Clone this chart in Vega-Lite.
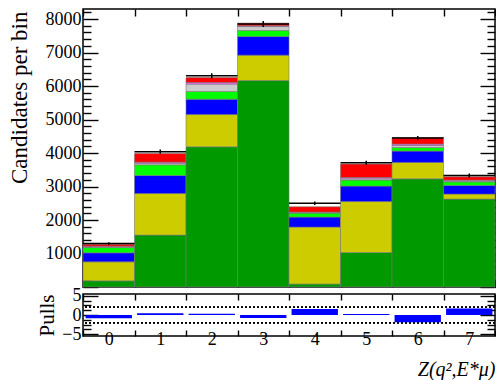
{
  "$schema": "https://vega.github.io/schema/vega-lite/v6.json",
  "padding": {"left": 7, "top": 7, "right": 0, "bottom": 0},
  "spacing": -3,
  "config": {
    "font": "Liberation Serif",
    "view": {"stroke": "black", "strokeWidth": 1.5},
    "axis": {"domain": false, "grid": false, "labelFont": "Liberation Serif", "labelFontSize": 18, "labelColor": "black", "tickColor": "black", "tickWidth": 1.4, "titleFont": "Liberation Serif", "titleFontWeight": "normal", "titleColor": "black"}
  },
  "datasets": {
    "stack": [
      {"bin": 0, "comp": "c1", "n": 185}, {"bin": 0, "comp": "c2", "n": 567}, {"bin": 0, "comp": "c3", "n": 269}, {"bin": 0, "comp": "c4", "n": 158}, {"bin": 0, "comp": "c5", "n": 20}, {"bin": 0, "comp": "c6", "n": 20}, {"bin": 0, "comp": "c7", "n": 60},
      {"bin": 1, "comp": "c1", "n": 1549}, {"bin": 1, "comp": "c2", "n": 1242}, {"bin": 1, "comp": "c3", "n": 537}, {"bin": 1, "comp": "c4", "n": 320}, {"bin": 1, "comp": "c5", "n": 40}, {"bin": 1, "comp": "c6", "n": 40}, {"bin": 1, "comp": "c7", "n": 257},
      {"bin": 2, "comp": "c1", "n": 4185}, {"bin": 2, "comp": "c2", "n": 964}, {"bin": 2, "comp": "c3", "n": 460}, {"bin": 2, "comp": "c4", "n": 227}, {"bin": 2, "comp": "c5", "n": 221}, {"bin": 2, "comp": "c6", "n": 47}, {"bin": 2, "comp": "c7", "n": 150},
      {"bin": 3, "comp": "c1", "n": 6165}, {"bin": 3, "comp": "c2", "n": 757}, {"bin": 3, "comp": "c3", "n": 556}, {"bin": 3, "comp": "c4", "n": 179}, {"bin": 3, "comp": "c5", "n": 119}, {"bin": 3, "comp": "c6", "n": 21}, {"bin": 3, "comp": "c7", "n": 81},
      {"bin": 4, "comp": "c1", "n": 87}, {"bin": 4, "comp": "c2", "n": 1701}, {"bin": 4, "comp": "c3", "n": 299}, {"bin": 4, "comp": "c4", "n": 119}, {"bin": 4, "comp": "c5", "n": 15}, {"bin": 4, "comp": "c6", "n": 15}, {"bin": 4, "comp": "c7", "n": 158},
      {"bin": 5, "comp": "c1", "n": 1030}, {"bin": 5, "comp": "c2", "n": 1522}, {"bin": 5, "comp": "c3", "n": 460}, {"bin": 5, "comp": "c4", "n": 179}, {"bin": 5, "comp": "c5", "n": 40}, {"bin": 5, "comp": "c6", "n": 38}, {"bin": 5, "comp": "c7", "n": 400},
      {"bin": 6, "comp": "c1", "n": 3230}, {"bin": 6, "comp": "c2", "n": 490}, {"bin": 6, "comp": "c3", "n": 337}, {"bin": 6, "comp": "c4", "n": 107}, {"bin": 6, "comp": "c5", "n": 60}, {"bin": 6, "comp": "c6", "n": 42}, {"bin": 6, "comp": "c7", "n": 197},
      {"bin": 7, "comp": "c1", "n": 2624}, {"bin": 7, "comp": "c2", "n": 149}, {"bin": 7, "comp": "c3", "n": 257}, {"bin": 7, "comp": "c4", "n": 110}, {"bin": 7, "comp": "c5", "n": 25}, {"bin": 7, "comp": "c6", "n": 26}, {"bin": 7, "comp": "c7", "n": 99}
    ],
    "obs": [
      {"bin": 0, "n": 1300, "lo": 1264, "hi": 1336},
      {"bin": 1, "n": 4040, "lo": 3976, "hi": 4104},
      {"bin": 2, "n": 6305, "lo": 6226, "hi": 6384},
      {"bin": 3, "n": 7855, "lo": 7766, "hi": 7944},
      {"bin": 4, "n": 2500, "lo": 2450, "hi": 2550},
      {"bin": 5, "n": 3710, "lo": 3649, "hi": 3771},
      {"bin": 6, "n": 4445, "lo": 4378, "hi": 4512},
      {"bin": 7, "n": 3330, "lo": 3272, "hi": 3388}
    ],
    "pulls": [
      {"bin": 0, "pull": -0.87},
      {"bin": 1, "pull": 0.45},
      {"bin": 2, "pull": 0.3},
      {"bin": 3, "pull": -0.8},
      {"bin": 4, "pull": 1.6},
      {"bin": 5, "pull": 0.25},
      {"bin": 6, "pull": -1.9},
      {"bin": 7, "pull": 1.7}
    ]
  },
  "vconcat": [
    {
      "width": 412,
      "height": 278,
      "layer": [
        {
          "data": {"name": "stack"},
          "mark": {"type": "bar", "stroke": "#777777", "strokeWidth": 0.6},
          "encoding": {
            "x": {"field": "bin", "type": "ordinal", "scale": {"paddingInner": 0, "paddingOuter": 0},
                  "axis": {"orient": "bottom", "title": null, "labels": false, "tickBand": "extent", "tickSize": -7, "minExtent": 0, "maxExtent": 0}},
            "y": {"field": "n", "type": "quantitative", "stack": "zero", "scale": {"domain": [0, 8300], "nice": false},
                  "axis": {"orient": "left", "title": "Candidates per bin", "titleFontSize": 23, "titleX": -64, "titleY": 2, "titleAlign": "right", "titleBaseline": "middle", "titleAngle": -90,
                           "values": [0,200,400,600,800,1000,1200,1400,1600,1800,2000,2200,2400,2600,2800,3000,3200,3400,3600,3800,4000,4200,4400,4600,4800,5000,5200,5400,5600,5800,6000,6200,6400,6600,6800,7000,7200,7400,7600,7800,8000,8200],
                           "format": "d",
                           "labelExpr": "datum.value % 1000 === 0 && datum.value > 0 ? datum.label : ''",
                           "tickSize": {"condition": {"test": "datum.value % 1000 === 0", "value": -15}, "value": -8},
                           "labelPadding": 17}},
            "color": {"field": "comp", "type": "nominal", "legend": null,
                      "scale": {"domain": ["c1","c2","c3","c4","c5","c6","c7"], "range": ["#009900","#cccc00","#0000ff","#00ff00","#cccccc","#ff66ff","#ff0000"]}},
            "order": {"field": "comp", "sort": "ascending"}
          }
        },
        {
          "data": {"name": "obs"},
          "mark": {"type": "bar", "stroke": "black", "strokeWidth": 1.5, "fill": "black"},
          "encoding": {
            "x": {"field": "bin", "type": "ordinal",
                  "axis": {"orient": "top", "title": null, "labels": false, "tickBand": "extent", "tickSize": -7, "minExtent": 0, "maxExtent": 0}},
            "y": {"field": "n", "type": "quantitative",
                  "axis": {"orient": "right", "title": null, "labels": false, "minExtent": 0, "maxExtent": 0,
                           "values": [0,200,400,600,800,1000,1200,1400,1600,1800,2000,2200,2400,2600,2800,3000,3200,3400,3600,3800,4000,4200,4400,4600,4800,5000,5200,5400,5600,5800,6000,6200,6400,6600,6800,7000,7200,7400,7600,7800,8000,8200],
                           "tickSize": {"condition": {"test": "datum.value % 1000 === 0", "value": -15}, "value": -8}}},
            "y2": {"field": "n"}
          }
        },
        {
          "data": {"name": "obs"},
          "mark": {"type": "rule", "color": "black", "strokeWidth": 1.5},
          "encoding": {
            "x": {"field": "bin", "type": "ordinal", "axis": null},
            "y": {"field": "lo", "type": "quantitative", "axis": null},
            "y2": {"field": "hi"}
          }
        },
        {
          "mark": {"type": "text", "text": "LHCb", "fontSize": 20, "font": "Liberation Serif", "align": "right", "baseline": "middle", "color": "black"},
          "encoding": {
            "x": {"datum": 6, "type": "ordinal", "axis": null},
            "y": {"datum": 6360, "type": "quantitative", "axis": null}
          }
        }
      ],
      "resolve": {"axis": {"x": "independent", "y": "independent"}}
    },
    {
      "width": 412,
      "height": 42,
      "data": {"name": "pulls"},
      "layer": [
        {
          "mark": {"type": "rule", "strokeDash": [2, 2], "color": "black", "strokeWidth": 1.2},
          "encoding": {"y": {"datum": 2, "type": "quantitative", "axis": null}}
        },
        {
          "mark": {"type": "rule", "strokeDash": [2, 2], "color": "black", "strokeWidth": 1.2},
          "encoding": {"y": {"datum": -2, "type": "quantitative", "axis": null}}
        },
        {
          "mark": {"type": "bar", "color": "#0000ff", "width": {"band": 0.9}},
          "encoding": {
            "x": {"field": "bin", "type": "ordinal", "scale": {"paddingInner": 0, "paddingOuter": 0},
                  "axis": {"orient": "bottom", "title": "Z(q²,E*μ)", "titleFontStyle": "italic", "titleFontSize": 20, "titleAnchor": "end", "titlePadding": 11,
                           "labelAngle": 0, "tickBand": "extent", "tickSize": -6, "labelPadding": 0}},
            "y": {"field": "pull", "type": "quantitative", "scale": {"domain": [-5.5, 5.5], "nice": false},
                  "axis": {"orient": "left", "title": "Pulls", "titleFontSize": 21, "titleX": -36, "titleY": 21, "titleAlign": "center", "titleBaseline": "middle", "titleAngle": -90,
                           "values": [-5, -3.75, -2.5, -1.25, 0, 1.25, 2.5, 3.75, 5],
                           "labelExpr": "datum.value === 5 ? '5' : datum.value === 0 ? '0' : datum.value === -5 ? '−5' : ''",
                           "tickSize": {"condition": {"test": "datum.value % 5 === 0", "value": -15}, "value": -8},
                           "labelPadding": 17}}
          }
        },
        {
          "mark": {"type": "bar", "opacity": 0, "width": {"band": 0.9}},
          "encoding": {
            "x": {"field": "bin", "type": "ordinal",
                  "axis": {"orient": "top", "title": null, "labels": false, "tickBand": "extent", "tickSize": -6, "minExtent": 0, "maxExtent": 0}},
            "y": {"field": "pull", "type": "quantitative",
                  "axis": {"orient": "right", "title": null, "labels": false, "minExtent": 0, "maxExtent": 0,
                           "values": [-5, -3.75, -2.5, -1.25, 0, 1.25, 2.5, 3.75, 5],
                           "tickSize": {"condition": {"test": "datum.value % 5 === 0", "value": -15}, "value": -8}}}
          }
        }
      ],
      "resolve": {"axis": {"x": "independent", "y": "independent"}}
    }
  ]
}
